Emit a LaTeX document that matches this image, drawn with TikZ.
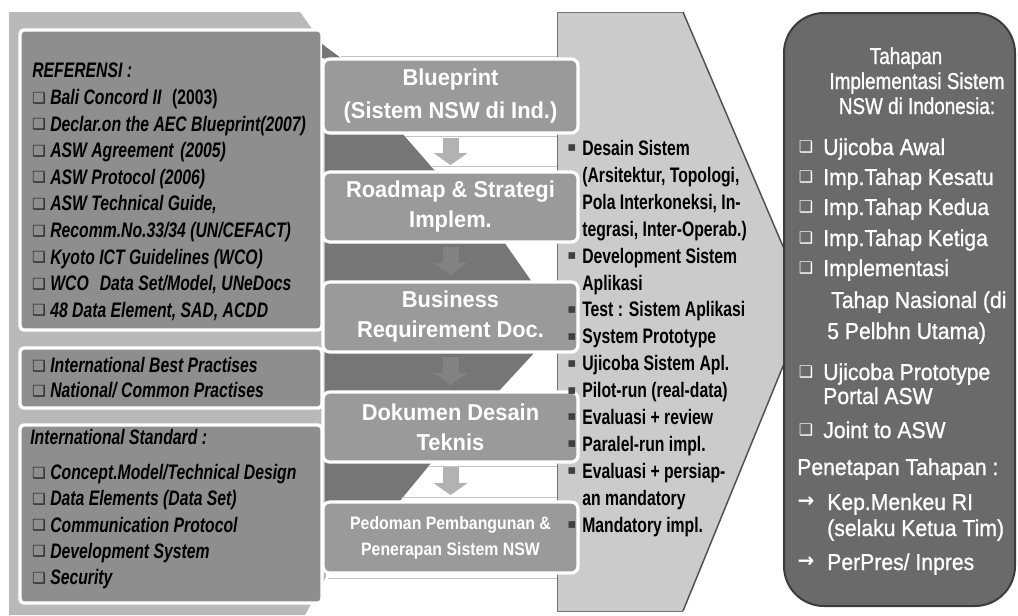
\documentclass[tikz,border=0pt]{standalone}
\usepackage{fontspec}
\setmainfont{Liberation Sans}
\newfontfamily\condf[FakeStretch=0.75]{Liberation Sans}
\newfontfamily\boxf[FakeStretch=0.95]{Liberation Sans}
\newfontfamily\pedf[FakeStretch=0.88]{Liberation Sans}
\newfontfamily\rightf[FakeStretch=0.92,FakeBold=1]{Liberation Sans}
\newfontfamily\titlef[FakeStretch=0.82,FakeBold=1]{Liberation Sans}
\newfontfamily\symf{DejaVu Sans}
\usetikzlibrary{arrows.meta}
\definecolor{cOuterL}{HTML}{B9B9B9}
\definecolor{cInnerL}{HTML}{8E8E8E}
\definecolor{cMid}{HTML}{9A9A9A}
\definecolor{cGap}{HTML}{767676}
\definecolor{cChev}{HTML}{CBCBCB}
\definecolor{cChevLine}{HTML}{505050}
\definecolor{cPanel}{HTML}{6A6A6A}
\definecolor{cPanelLine}{HTML}{3C3C3C}
\definecolor{cArrowL}{HTML}{B2B2B2}
\definecolor{cArrowD}{HTML}{828282}
\definecolor{cEdge}{HTML}{C4C4C4}
\tikzset{
  ltxt/.style={anchor=base west, inner sep=0pt, text=black,
    font=\condf\bfseries\itshape\fontsize{15.75pt}{20pt}\selectfont},
  lbul/.style={anchor=base, inner sep=0pt, text=black!85,
    font=\symf\fontsize{11.5pt}{12pt}\selectfont},
  ctxt/.style={anchor=base west, inner sep=0pt, text=black,
    font=\condf\bfseries\fontsize{15.75pt}{20pt}\selectfont},
  cbul/.style={anchor=center, inner sep=0pt, text=black!75,
    font=\symf\fontsize{10pt}{10pt}\selectfont},
  midbox/.style={draw=white, line width=2.4pt, fill=cMid, rounded corners=5pt,
    minimum width=191.25pt, align=center, text=white, inner sep=0pt,
    font=\boxf\bfseries\fontsize{17.25pt}{22.5pt}\selectfont},
  pedbox/.style={midbox, font=\pedf\bfseries\fontsize{13.5pt}{19.5pt}\selectfont},
  garrow/.style={line width=12pt, -{Triangle[length=9pt,width=25pt]},
    shorten <=2.5pt, shorten >=4pt},
  rtxt/.style={anchor=base west, inner sep=0pt, text=white,
    font=\rightf\fontsize{17.25pt}{20pt}\selectfont},
  rtitle/.style={anchor=base, inner sep=0pt, text=white,
    font=\titlef\fontsize{17.25pt}{20pt}\selectfont},
  rbul/.style={anchor=center, inner sep=0pt, text=white,
    font=\symf\fontsize{12pt}{12pt}\selectfont},
  rarr/.style={anchor=center, inner sep=0pt, text=white,
    font=\symf\bfseries\fontsize{15pt}{15pt}\selectfont},
}
\begin{document}
\begin{tikzpicture}[x=0.75pt,y=-0.75pt]
\useasboundingbox (0,0) rectangle (1018,615);
\fill[white] (0,0) rectangle (1018,615);

% ---------- left panel ----------
\fill[cOuterL] (9,12) -- (300,12) -- (326,48) -- (326,577) -- (305,615) -- (9,615) -- cycle;
\draw[white, line width=2.6pt, fill=cInnerL, rounded corners=3pt] (20,30) rectangle (322,330);
\draw[white, line width=2.6pt, fill=cInnerL, rounded corners=3pt] (20,348) rectangle (322,408);
\draw[white, line width=2.6pt, fill=cInnerL, rounded corners=3pt] (20,425) rectangle (322,603);

% ---------- big chevron ----------
\fill[cChev] (557,12) -- (683,12) -- (808,305) -- (683,611) -- (557,611) -- cycle;
\draw[cChevLine, line width=1.1pt] (683,12) -- (808,305) -- (683,611);
\draw[black!55, line width=0.6pt] (557,12) -- (683,12);
\draw[black!55, line width=0.6pt] (557,12) -- (557,611) -- (683,611);

% ---------- dark bands between the boxes ----------
\fill[cGap] (322,44) -- (341,58) -- (322,58) -- cycle;
\fill[cGap] (325,132) -- (401,132) -- (436,172) -- (325,172) -- cycle;
\fill[cGap] (325,242) -- (504,242) -- (532,282) -- (325,282) -- cycle;
\fill[cGap] (325,352) -- (535,352) -- (498,392) -- (325,392) -- cycle;
\fill[cGap] (325,462) -- (432,462) -- (399,502) -- (325,502) -- cycle;
\draw[cEdge, line width=0.6pt] (341,56) -- (557,56);
\draw[cEdge, line width=0.6pt] (405,136) -- (557,136);
\draw[cEdge, line width=0.6pt] (432,166) -- (557,166);
\draw[cEdge, line width=0.6pt] (428,466) -- (557,466);
\draw[cEdge, line width=0.6pt] (402,497) -- (557,497);
\draw[cEdge, line width=0.6pt] (328,578) -- (557,578);

% ---------- middle boxes ----------
\node[midbox, minimum height=55.5pt, font=\boxf\bfseries\fontsize{17.25pt}{25pt}\selectfont] (b1) at (450.5,96) {Blueprint\\(Sistem NSW di Ind.)};
\node[midbox, minimum height=52.5pt] (b2) at (450.5,207) {Roadmap \& Strategi\\Implem.};
\node[midbox, minimum height=52.5pt] (b3) at (450.5,317) {Business\\Requirement Doc.};
\node[midbox, minimum height=52.5pt] (b4) at (450.5,427) {Dokumen Desain\\Teknis};
\node[pedbox, minimum height=53.25pt] (b5) at (450.5,537.5) {Pedoman Pembangunan \&\\Penerapan Sistem NSW};

\draw[garrow, cArrowL] (b1) -- (b2);
\draw[garrow, cArrowD] (b2) -- (b3);
\draw[garrow, cArrowD] (b3) -- (b4);
\draw[garrow, cArrowL] (b4) -- (b5);

% ---------- right panel ----------
\draw[cPanelLine, line width=1.5pt, fill=cPanel, rounded corners=30pt] (784,13) rectangle (1015,606);

% ---------- left texts ----------
\node[ltxt] (refh) at (32,77) {REFERENSI :};
\node[lbul] (la1) at (39,103) {❑};
\node[ltxt] (lt1) at (50,104.5) {Bali Concord II\hspace{8pt}{\upshape(2003)}};
\node[lbul] (la2) at (39,129.6) {❑};
\node[ltxt] (lt2) at (50,131.1) {Declar.on the AEC Blueprint(2007)};
\node[lbul] (la3) at (39,156.2) {❑};
\node[ltxt] (lt3) at (50,157.7) {ASW Agreement\hspace{5pt}(2005)};
\node[lbul] (la4) at (39,182.8) {❑};
\node[ltxt] (lt4) at (50,184.3) {ASW Protocol (2006)};
\node[lbul] (la5) at (39,209.4) {❑};
\node[ltxt] (lt5) at (50,210.9) {ASW Technical Guide,};
\node[lbul] (la6) at (39,236) {❑};
\node[ltxt] (lt6) at (50,237.5) {Recomm.No.33/34 (UN/CEFACT)};
\node[lbul] (la7) at (39,262.6) {❑};
\node[ltxt] (lt7) at (50,264.1) {Kyoto ICT Guidelines (WCO)};
\node[lbul] (la8) at (39,289.2) {❑};
\node[ltxt] (lt8) at (50,290.7) {WCO\hspace{5pt} Data Set/Model, UNeDocs};
\node[lbul] (la9) at (39,315.8) {❑};
\node[ltxt] (lt9) at (50,317.3) {48 Data Element, SAD, ACDD};

\node[lbul] (lb1) at (39,371) {❑};
\node[ltxt] (lu1) at (50,372.5) {International Best Practises};
\node[lbul] (lb2) at (39,396) {❑};
\node[ltxt] (lu2) at (50,397.5) {National/ Common Practises};

\node[ltxt] (stdh) at (30,444.5) {International Standard :};
\node[lbul] (lc1) at (39,478) {❑};
\node[ltxt] (lv1) at (50,479.5) {Concept.Model/Technical Design};
\node[lbul] (lc2) at (39,504.3) {❑};
\node[ltxt] (lv2) at (50,505.8) {Data Elements (Data Set)};
\node[lbul] (lc3) at (39,530.6) {❑};
\node[ltxt] (lv3) at (50,532.1) {Communication Protocol};
\node[lbul] (lc4) at (39,556.9) {❑};
\node[ltxt] (lv4) at (50,558.4) {Development System};
\node[lbul] (lc5) at (39,583.2) {❑};
\node[ltxt] (lv5) at (50,584.7) {Security};

% ---------- chevron texts ----------
\node[cbul] (cb1) at (572,148.5) {▪};
\node[ctxt] (ct1) at (582,155.5) {Desain Sistem};
\node[ctxt] (ct2) at (582,182.4) {(Arsitektur, Topologi,};
\node[ctxt] (ct3) at (582,209.3) {Pola Interkoneksi, In-};
\node[ctxt] (ct4) at (582,236.2) {tegrasi, Inter-Operab.)};
\node[cbul] (cb5) at (572,256.1) {▪};
\node[ctxt] (ct5) at (582,263.1) {Development Sistem};
\node[ctxt] (ct6) at (582,290.0) {Aplikasi};
\node[cbul] (cb7) at (572,309.9) {▪};
\node[ctxt] (ct7) at (582,316.9) {Test : Sistem Aplikasi};
\node[cbul] (cb8) at (572,336.8) {▪};
\node[ctxt] (ct8) at (582,343.8) {System Prototype};
\node[cbul] (cb9) at (572,363.7) {▪};
\node[ctxt] (ct9) at (582,370.7) {Ujicoba Sistem Apl.};
\node[cbul] (cb10) at (572,390.6) {▪};
\node[ctxt] (ct10) at (582,397.6) {Pilot-run (real-data)};
\node[cbul] (cb11) at (572,417.5) {▪};
\node[ctxt] (ct11) at (582,424.5) {Evaluasi + review};
\node[cbul] (cb12) at (572,444.4) {▪};
\node[ctxt] (ct12) at (582,451.4) {Paralel-run impl.};
\node[cbul] (cb13) at (572,471.3) {▪};
\node[ctxt] (ct13) at (582,478.3) {Evaluasi + persiap-};
\node[ctxt] (ct14) at (582,505.2) {an mandatory};
\node[cbul] (cb15) at (572,525.1) {▪};
\node[ctxt] (ct15) at (582,532.1) {Mandatory impl.};

% ---------- right panel texts ----------
\node[rtitle] (rh1) at (906,64) {Tahapan};
\node[rtitle] (rh2) at (917,89) {Implementasi Sistem};
\node[rtitle] (rh3) at (917,114) {NSW di Indonesia:};
\node[rbul] (rb1) at (806,147) {❑};
\node[rtxt] (r1) at (823,155) {Ujicoba Awal};
\node[rbul] (rb2) at (806,177) {❑};
\node[rtxt] (r2) at (823,185) {Imp.Tahap Kesatu};
\node[rbul] (rb3) at (806,207) {❑};
\node[rtxt] (r3) at (823,215) {Imp.Tahap Kedua};
\node[rbul] (rb4) at (806,238) {❑};
\node[rtxt] (r4) at (823,246) {Imp.Tahap Ketiga};
\node[rbul] (rb5) at (806,268) {❑};
\node[rtxt] (r5) at (823,276) {Implementasi};
\node[rtxt] (r5b) at (831,308) {Tahap Nasional (di};
\node[rtxt] (r5c) at (827,339) {5 Pelbhn Utama)};
\node[rbul] (rb6) at (806,372) {❑};
\node[rtxt] (r6) at (823,380) {Ujicoba Prototype};
\node[rtxt] (r6b) at (823,404) {Portal ASW};
\node[rbul] (rb7) at (806,430) {❑};
\node[rtxt] (r7) at (823,438) {Joint to ASW};
\node[rtxt] (rp) at (797,475) {Penetapan Tahapan :};
\node[rarr] (ra1) at (806,502) {→};
\node[rtxt] (r8) at (827,510) {Kep.Menkeu RI};
\node[rtxt] (r8b) at (827,536) {(selaku Ketua Tim)};
\node[rarr] (ra2) at (806,562) {→};
\node[rtxt] (r9) at (827,570) {PerPres/ Inpres};
\end{tikzpicture}
\end{document}
